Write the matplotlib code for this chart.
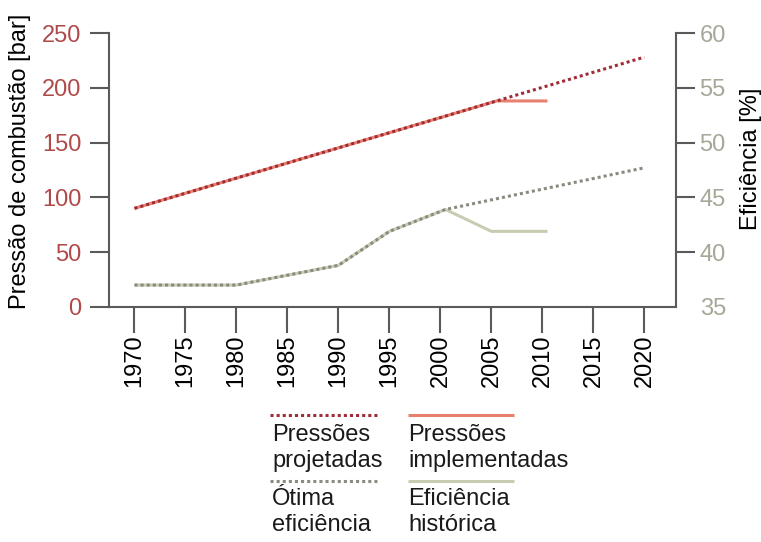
import matplotlib.pyplot as plt
from matplotlib.lines import Line2D

plt.rcParams['font.family'] = ['Liberation Sans', 'DejaVu Sans']

# pressure series (bar)
years_proj = [1970, 2020]
press_proj = [90, 228]
years_impl = [1970, 2005.5, 2010.5]
press_impl = [90, 188, 188]

# efficiency series (%)
years_hist = [1970, 1980, 1990, 1995, 2000.5, 2005, 2010.5]
eff_hist = [37, 37, 38.8, 41.9, 43.9, 41.9, 41.9]
years_opt = [1970, 1980, 1990, 1995, 2000.5, 2020]
eff_opt = [37, 37, 38.8, 41.9, 43.9, 47.7]

xticks = list(range(1970, 2021, 5))
left_ticks = [0, 50, 100, 150, 200, 250]
right_ticks = [35, 40, 45, 50, 55, 60]

c_impl = '#e8806e'
c_proj = '#a02c38'
c_hist = '#c9ccb2'
c_opt = '#8a8b80'
c_spine = '#5a5a5a'
c_left_lbl = '#b04a4a'
c_right_lbl = '#a6a796'

dots = (0, (1, 1))

fig = plt.figure(figsize=(7.61, 5.42), dpi=100)
ax = fig.add_axes([0.1432, 0.4336, 0.7451, 0.5055])
ax2 = ax.twinx()

ax.plot(years_impl, press_impl, color=c_impl, lw=2.2, solid_capstyle='butt')
ax.plot(years_proj, press_proj, color=c_proj, lw=2.2, linestyle=dots)
ax2.plot(years_hist, eff_hist, color=c_hist, lw=2.2, solid_capstyle='butt')
ax2.plot(years_opt, eff_opt, color=c_opt, lw=2.2, linestyle=dots)

ax.set_xlim(1967.5, 2023.1)
ax.set_ylim(0, 250)
ax2.set_ylim(35, 60)

ax.set_xticks(xticks)
ax.set_xticklabels([str(y) for y in xticks], rotation=90)
ax.set_yticks(left_ticks)
ax2.set_yticks(right_ticks)

for a in (ax, ax2):
    a.spines['top'].set_visible(False)
    for s in ('left', 'right', 'bottom'):
        a.spines[s].set_color(c_spine)
        a.spines[s].set_linewidth(1.5)

ax.spines['right'].set_visible(False)
ax2.spines['left'].set_visible(False)
ax2.spines['bottom'].set_visible(False)

ax.tick_params(axis='x', direction='out', length=19, width=1.5, color=c_spine,
               labelsize=17, pad=0.5)
ax.tick_params(axis='y', direction='out', length=14, width=1.5, color=c_spine,
               labelsize=17, labelcolor=c_left_lbl, pad=6)
ax2.tick_params(axis='y', direction='out', length=14, width=1.5, color=c_spine,
                labelsize=17, labelcolor=c_right_lbl, pad=3)
ax2.yaxis.get_major_ticks()[0].tick2line.set_visible(False)

ax.set_ylabel('Pressão de combustão [bar]', fontsize=17, labelpad=8)
ax2.set_ylabel('Eficiência [%]', fontsize=17, labelpad=10)
ax.yaxis.label.set_y(0.53)
ax2.yaxis.label.set_y(0.54)

# legend drawn below the plot in two columns
W, H = 761, 542


def fx(px):
    return px / W


def fy(py):
    return 1 - py / H


legend_items = [
    (270, 378, 415, c_proj, dots, ['Pressões', 'projetadas'], 272, [441, 467]),
    (408, 514, 415, c_impl, '-', ['Pressões', 'implementadas'], 408, [441, 467]),
    (270, 378, 481, c_opt, dots, ['Ótima', 'eficiência'], 272, [505, 531]),
    (408, 514, 481, c_hist, '-', ['Eficiência', 'histórica'], 408, [505, 531]),
]
for x0, x1, ly, col, ls, lines, tx, tys in legend_items:
    fig.add_artist(Line2D([fx(x0), fx(x1)], [fy(ly), fy(ly)], color=col, lw=2.2,
                          linestyle=ls, solid_capstyle='butt',
                          transform=fig.transFigure))
    for txt, ty in zip(lines, tys):
        fig.text(fx(tx), fy(ty), txt, fontsize=17, va='baseline', ha='left',
                 color='#1a1a1a')

fig.savefig('out.png', dpi=100)
